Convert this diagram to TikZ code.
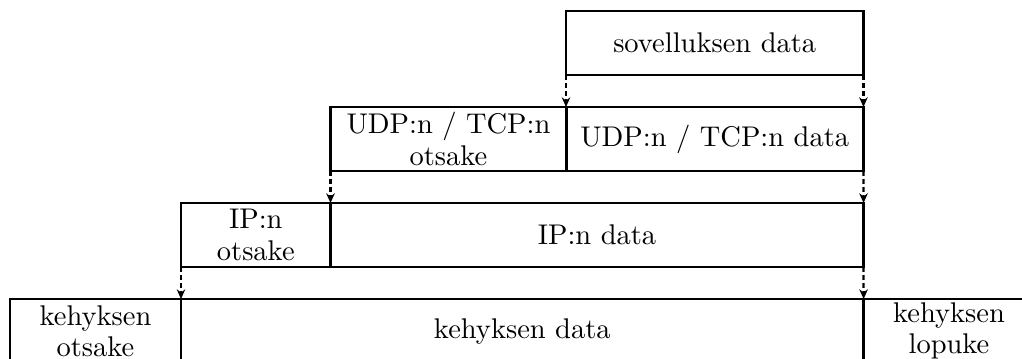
\documentclass[tikz,border=0pt]{standalone}
\usetikzlibrary{arrows.meta}
\begin{document}
\begin{tikzpicture}[x=0.351pt, y=-0.351pt,
  layer/.style={draw, line width=0.9pt, inner sep=0pt, outer sep=0pt,
    minimum height=22.5pt, anchor=north west, align=center},
  maps/.style={line width=0.8pt, dash pattern=on 1.7pt off 1.1pt,
    -{Stealth[length=3.4pt, width=3pt]}}]
  \useasboundingbox (0,0) rectangle (1022,358);
  \clip (0,0) rectangle (1022,358);
  % application layer
  \node[layer, minimum width=104.4pt] (app) at (566,11) {sovelluksen data};
  % transport layer
  \node[layer, minimum width=82.8pt] (udph) at (330.5,107) {UDP:n / TCP:n\\[-1pt]otsake};
  \node[layer, minimum width=104.4pt] (udpd) at (566,107) {UDP:n / TCP:n data};
  % network layer
  \node[layer, minimum width=52.5pt] (iph) at (181,203) {IP:n\\[-1pt]otsake};
  \node[layer, minimum width=187.1pt] (ipd) at (330.5,203) {IP:n data};
  % link layer
  \node[layer, minimum width=60pt] (fh) at (10,299) {kehyksen\\[-1pt]otsake};
  \node[layer, minimum width=239.6pt] (fd) at (181,299) {kehyksen data};
  \node[layer, minimum width=60pt] (ft) at (863.5,299) {kehyksen\\[-1pt]lopuke};
  % encapsulation arrows
  \draw[maps] (app.south west) -- (udpd.north west);
  \draw[maps] (app.south east) -- (udpd.north east);
  \draw[maps] (udph.south west) -- (ipd.north west);
  \draw[maps] (udpd.south east) -- (ipd.north east);
  \draw[maps] (iph.south west) -- (fd.north west);
  \draw[maps] (ipd.south east) -- (fd.north east);
\end{tikzpicture}
\end{document}
